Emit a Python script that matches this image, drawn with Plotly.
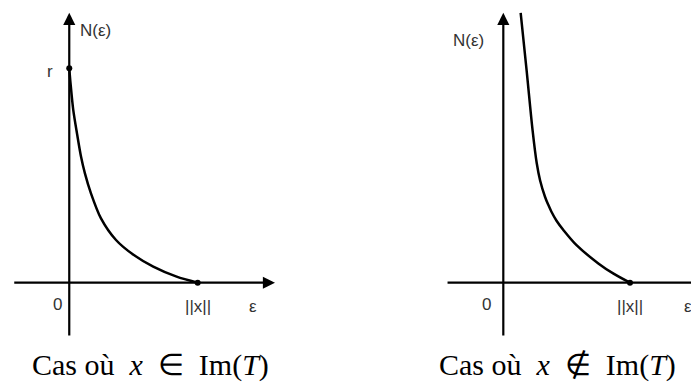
import plotly.graph_objects as go

# ---- data (ε in units of ||x||, N in units of r) ----
eps_left = [0.0, 0.01, 0.031, 0.062, 0.091, 0.122, 0.169, 0.247, 0.364, 0.5, 0.654, 0.836, 1.0]
n_left = [1.0, 0.93, 0.806, 0.69, 0.59, 0.51, 0.417, 0.30, 0.199, 0.13, 0.075, 0.028, 0.0]

eps_right = [0.137, 0.185, 0.231, 0.264, 0.29, 0.329, 0.355, 0.38, 0.42, 0.474, 0.58, 0.75, 0.87, 1.0]
n_right = [1.259, 0.985, 0.712, 0.557, 0.478, 0.401, 0.363, 0.331, 0.289, 0.246, 0.174, 0.09, 0.042, 0.0]

left_points_x = [0.0, 1.0]
left_points_y = [1.0, 0.0]
right_points_x = [1.0]
right_points_y = [0.0]

SP = "\u2002"  # en space (math spacing)
captions = ["Cas où" + SP + "<i>x</i>" + SP + "∈" + SP + "Im(<i>T</i>)",
            "Cas où" + SP + "<i>x</i>" + SP + "∉" + SP + "Im(<i>T</i>)"]

W, H = 699, 385
OFF = 8  # page body margin in the browser
fig = go.Figure()

line_style = dict(color="black", width=2.5)
fig.add_trace(go.Scatter(x=eps_left, y=n_left, mode="lines",
                         line=dict(shape="spline", smoothing=0.8, **line_style),
                         xaxis="x", yaxis="y", hoverinfo="skip", cliponaxis=False))
fig.add_trace(go.Scatter(x=left_points_x, y=left_points_y, mode="markers",
                         marker=dict(color="black", size=6), xaxis="x", yaxis="y", cliponaxis=False))
fig.add_trace(go.Scatter(x=eps_right, y=n_right, mode="lines",
                         line=dict(shape="spline", smoothing=1.0, **line_style),
                         xaxis="x2", yaxis="y2", hoverinfo="skip", cliponaxis=False))
fig.add_trace(go.Scatter(x=right_points_x, y=right_points_y, mode="markers",
                         marker=dict(color="black", size=6), xaxis="x2", yaxis="y2", cliponaxis=False))

hidden = dict(visible=False, showgrid=False, zeroline=False)
ymin, ymax = -0.5145, 1.2813
fig.update_layout(
    width=W, height=H, margin=dict(l=0, r=0, t=0, b=0),
    paper_bgcolor="white", plot_bgcolor="white", showlegend=False,
    xaxis=dict(domain=[0, 0.5], range=[-0.477, 2.2445], **hidden),
    yaxis=dict(domain=[0, 1], range=[ymin, ymax], **hidden),
    xaxis2=dict(domain=[0.5, 1], range=[-1.1508, 1.6077], **hidden),
    yaxis2=dict(domain=[0, 1], range=[ymin, ymax], anchor="x2", **hidden),
)

ann = []
def axis_arrow(xr, yr, x0, y0, x1, y1, head=2):
    ann.append(dict(xref=xr, yref=yr, axref=xr, ayref=yr, x=x1, y=y1, ax=x0, ay=y0,
                    showarrow=True, arrowhead=head, arrowwidth=2.2, arrowsize=1.1,
                    arrowcolor="black", text=""))

# left axes
axis_arrow("x", "y", -0.44, 0, 1.602, 0)
axis_arrow("x", "y", 0, -0.253, 0, 1.259)
# right axes
axis_arrow("x2", "y2", -0.452, 0, 1.60, 0, head=0)
axis_arrow("x2", "y2", 0, -0.253, 0, 1.259)

lbl_font = dict(family="Liberation Sans, Arial, sans-serif", size=17, color="#333")
def label(xr, yr, x, y, t, xanchor="center"):
    ann.append(dict(xref=xr, yref=yr, x=x, y=y, text=t, showarrow=False, font=lbl_font,
                    xanchor=xanchor, yanchor="middle"))

# left labels
label("x", "y", 0.065, 1.178, "N(ε)", "left")
label("x", "y", -0.15, 0.983, "r")
label("x", "y", -0.095, -0.1, "0")
label("x", "y", 1.0, -0.11, "||x||")
label("x", "y", 1.43, -0.11, "ε")
# right labels
label("x2", "y2", -0.41, 1.13, "N(ε)", "left")
label("x2", "y2", -0.135, -0.1, "0")
label("x2", "y2", 1.0, -0.11, "||x||")
label("x2", "y2", 1.455, -0.11, "ε")

cap_font = dict(family="Liberation Serif, Times New Roman, serif", size=30, color="black")
ann.append(dict(xref="paper", yref="paper", x=(150 - OFF) / W, y=1 - (365 - OFF) / H, text=captions[0],
                showarrow=False, font=cap_font, xanchor="center", yanchor="middle"))
ann.append(dict(xref="paper", yref="paper", x=(557 - OFF) / W, y=1 - (365 - OFF) / H, text=captions[1],
                showarrow=False, font=cap_font, xanchor="center", yanchor="middle"))

fig.update_layout(annotations=ann)
fig.write_html("out.html")
